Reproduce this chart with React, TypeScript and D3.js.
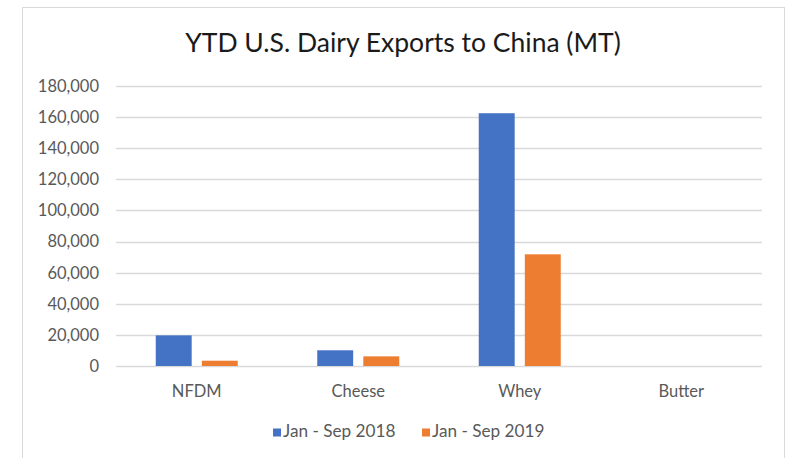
import React from "react";
import * as d3 from "d3";

const categories = ["NFDM", "Cheese", "Whey", "Butter"];
const seriesNames = ["Jan - Sep 2018", "Jan - Sep 2019"];
const values2018 = [19700, 10100, 162500, 0];
const values2019 = [3400, 6200, 71800, 0];
const yTicks = [0, 20000, 40000, 60000, 80000, 100000, 120000, 140000, 160000, 180000];
const colors = ["#4472C4", "#ED7D31"];

const W = 798;
const H = 458;
const plot = { left: 116, right: 762, top: 86, bottom: 366 };
const FONT = "Lato, 'Open Sans', sans-serif";

export default function App() {
  const x0 = d3.scaleBand<string>().domain(categories).range([plot.left, plot.right]).padding(0);
  const x1 = d3.scaleBand<string>().domain(seriesNames).range([-41, 41]).paddingInner(0.22);
  const y = d3.scaleLinear().domain([0, 180000]).range([plot.bottom, plot.top]);
  const fmt = d3.format(",");
  const seriesVals = [values2018, values2019];

  return (
    <div style={{ position: "absolute", left: 0, top: 0 }}>
      <svg width={W} height={H} style={{ display: "block", background: "#fff" }}>
        <rect x={22.5} y={7.5} width={762} height={460} fill="#fff" stroke="#D9D9D9" strokeWidth={1} />
        <text x={403} y={52} textAnchor="middle" fontFamily={FONT} fontSize={26.5} fill="#1a1a1a">
          YTD U.S. Dairy Exports to China (MT)
        </text>
        {yTicks.map((t) => (
          <g key={t}>
            <line x1={plot.left} x2={plot.right} y1={Math.round(y(t)) + 0.5} y2={Math.round(y(t)) + 0.5} stroke="#D9D9D9" strokeWidth={1.3} />
            <text x={99} y={y(t)} dy="0.36em" textAnchor="end" fontFamily={FONT} fontSize={16.5} fill="#595959">
              {fmt(t)}
            </text>
          </g>
        ))}
        {categories.map((c, i) => (
          <g key={c} transform={`translate(${x0(c)! + x0.bandwidth() / 2},0)`}>
            {seriesNames.map((s, j) => {
              const v = seriesVals[j][i];
              if (v <= 0) return null;
              return (
                <rect key={s} x={x1(s)!} width={x1.bandwidth()} y={y(v)} height={y(0) - y(v)} fill={colors[j]} />
              );
            })}
            <text x={0} y={397} textAnchor="middle" fontFamily={FONT} fontSize={16.5} fill="#595959">
              {c}
            </text>
          </g>
        ))}
        {seriesNames.map((s, j) => {
          const lx = j === 0 ? 273 : 422;
          return (
            <g key={s}>
              <rect x={lx} y={428.5} width={8} height={8} fill={colors[j]} />
              <text x={lx + 10} y={437} fontFamily={FONT} fontSize={17.2} fill="#595959">
                {s}
              </text>
            </g>
          );
        })}
      </svg>
    </div>
  );
}
